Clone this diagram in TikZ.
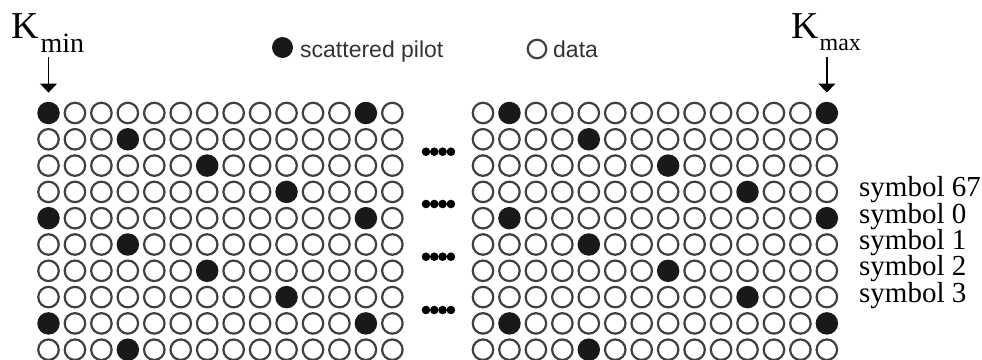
\documentclass[tikz,border=0pt]{standalone}
\usepackage{fontspec}
\setmainfont{Liberation Serif}
\setsansfont{Liberation Sans}
\usetikzlibrary{arrows.meta, positioning}

\begin{document}
\begin{tikzpicture}[x=1pt, y=-1pt, >={Triangle[width=17pt, length=9pt]},
    every node/.style={inner sep=0pt},
    datacell/.style={circle, draw=black!75, line width=2.2pt, fill=white, minimum size=20.5pt},
    pilotcell/.style={circle, fill=black!90, minimum size=22.5pt},
    symlabel/.style={anchor=base west, font=\fontsize{29}{30}\selectfont},
    keytext/.style={anchor=base west, text=black!80, font=\sffamily\fontsize{23}{24}\selectfont}]
  \useasboundingbox (0,0) rectangle (982,359);
  \clip (0,0) rectangle (982,359);

  \foreach \g/\x/\e in {L/48.5/1, R/483/2} {
    \foreach \r in {1,...,10} {
      \pgfmathtruncatemacro{\p}{\e+3*mod(\r-1,4)}
      \foreach \c in {1,...,14} {
        \pgfmathtruncatemacro{\f}{(\c==\p)||(\c==\p+12)}
        \ifnum\f=1 \def\cellstyle{pilotcell}\else\def\cellstyle{datacell}\fi
        \node[\cellstyle] (\g-\r-\c) at ({\x+(\c-1)*26.45}, {113+(\r-1)*26.3}) {};
      }
    }
  }

  \foreach \y in {151.7, 204, 256.7, 310} {
    \foreach \d in {0,...,3}
      \fill (426+\d*8.3, \y) circle[radius=4.3];
  }

  \node[anchor=base west, font=\fontsize{38}{40}\selectfont] (kmin) at (11,38)
    {K\kern2pt\raisebox{-14pt}{\fontsize{28}{30}\selectfont min}};
  \node[anchor=base west, font=\fontsize{38}{40}\selectfont] (kmax) at (791,38)
    {K\kern1pt\raisebox{-12pt}{\fontsize{24}{26}\selectfont max}};
  \coordinate (kminfoot) at ([yshift=-5pt]kmin.south -| L-1-1);
  \coordinate (kmaxfoot) at ([yshift=-7pt]kmax.south -| R-1-14);
  \draw[->, line width=1.3pt, shorten >=9pt] (kminfoot) -- (L-1-1.north);
  \draw[->, line width=1.3pt, shorten >=9pt] (kmaxfoot) -- (R-1-14.north);

  \node[pilotcell, minimum size=21pt] (keypilot) at (282.5,47.5) {};
  \node[keytext] (keypilottext) at (300,57) {scattered pilot};
  \node[datacell, minimum size=18.5pt] (keydata) at (537,49) {};
  \node[keytext] (keydatatext) at (553,57) {data};

  \foreach \r/\s in {4/67, 5/0, 6/1, 7/2, 8/3}
    \node[symlabel] (sym-\s) at (859, {113+(\r-1)*26.3+5}) {symbol \s};
\end{tikzpicture}
\end{document}
